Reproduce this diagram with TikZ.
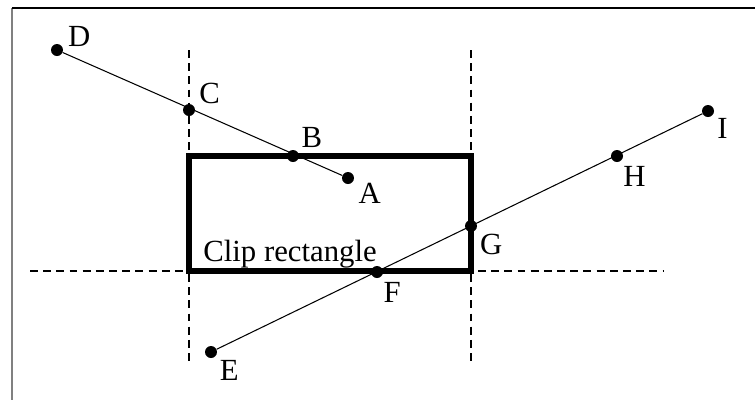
\documentclass[tikz,border=0pt]{standalone}
\usepackage{fontspec}
\setmainfont{Liberation Serif}
\begin{document}
\begin{tikzpicture}[x=0.02cm, y=-0.02cm,
    pt/.style={circle, fill, inner sep=0pt, minimum size=2.4mm},
    lbl/.style={font=\fontsize{17.5}{20}\selectfont, inner sep=1pt},
    label distance=1.5pt,
    ext/.style={dashed, dash pattern=on 4.5pt off 3pt, line width=0.6pt},
    seg/.style={line width=0.6pt}]
  \useasboundingbox (0,0) rectangle (755,400);
  % frame
  \draw[line width=1.2pt, gray] (12,8) -- (12,400);
  \draw[line width=1.2pt] (12,8) -- (755,8);

  % clip window and its extended edges
  \coordinate (xmin top) at (189,50);
  \coordinate (xmin bot) at (189,365);
  \coordinate (xmax top) at (471,50);
  \coordinate (xmax bot) at (471,365);
  \coordinate (ymin left) at (30,271);
  \coordinate (ymin right) at (663,271);
  \draw[ext] (xmin top) -- (xmin bot);
  \draw[ext] (xmax top) -- (xmax bot);
  \draw[ext] (ymin left) -- (ymin right);
  \draw[line width=3pt] (189,156) rectangle (471,271);
  \node[lbl, anchor=base west, inner sep=0pt] (clip) at (203,261) {Clip rectangle};

  % first segment
  \node[pt, label={[lbl]8:D}] (D) at (57,50) {};
  \node[pt, label={[lbl]25:C}] (C) at (189,110) {};
  \node[pt, label={[lbl]43:B}] (B) at (293,156) {};
  \node[pt, label={[lbl]-18:A}] (A) at (348,178) {};
  \draw[seg] (D) -- (A);

  % second segment
  \node[pt, label={[lbl]-41:E}] (E) at (211,352) {};
  \node[pt, label={[lbl]-60:F}] (F) at (377,272) {};
  \node[pt, label={[lbl]-38:G}] (G) at (471,226) {};
  \node[pt, label={[lbl]-61:H}] (H) at (617,156) {};
  \node[pt, label={[lbl]-37:I}] (I) at (708,111) {};
  \draw[seg] (E) -- (I);
\end{tikzpicture}
\end{document}
